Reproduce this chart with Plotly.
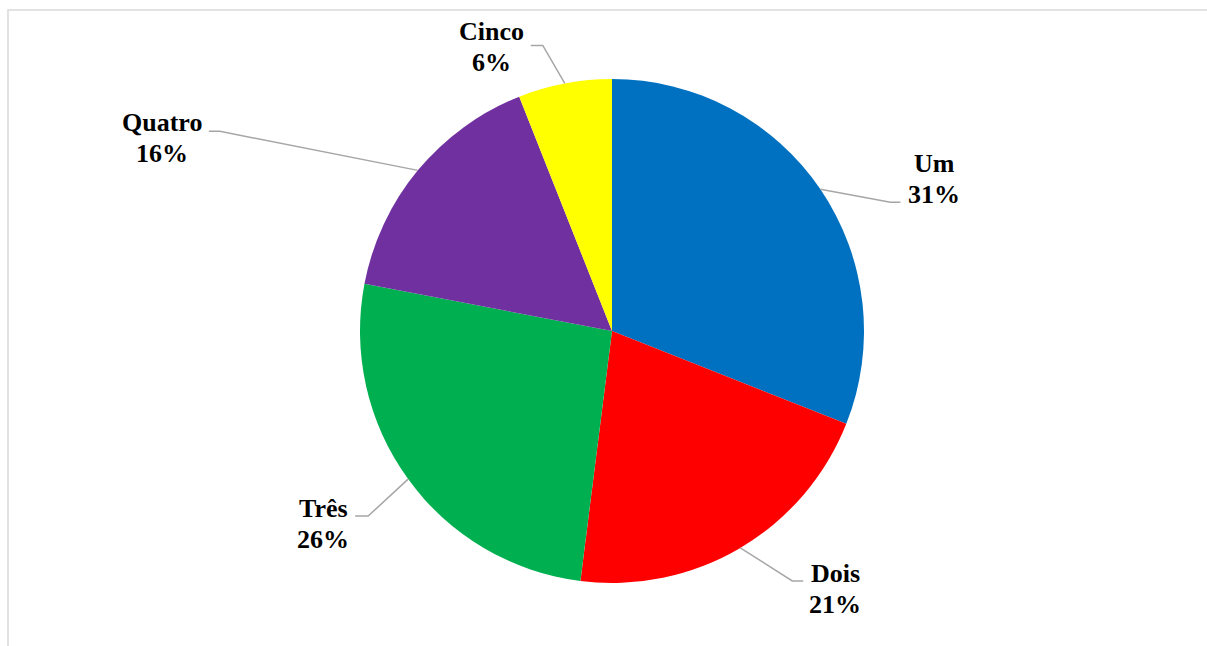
import math
import plotly.graph_objects as go

# Data
categories = ["Um", "Dois", "Três", "Quatro", "Cinco"]
values = [31, 21, 26, 16, 6]
colors = ["#0070C0", "#FF0000", "#00B050", "#7030A0", "#FFFF00"]

# Canvas and pie geometry (pixels)
W, H = 1207, 646
CX, CY, R = 612, 331, 252

# Leader-line layout per slice, pixel offsets from the point on the rim:
# elbow offset, horizontal tail length, label centre offset
elbow = [(70, 13), (52, 33), (-40, 37), (-198, -39), (-22, -38)]
tail = [10, 11, -13, -11, -12]
label_off = [(114, -10), (95, 41), (-85, 45), (-256, -32), (-73, -36)]

FONT = "Liberation Serif"
FONT_SIZE = 26
LINE_GAP = 31  # distance between the name line and the percent line


def px(x):
    return x / W


def py(y):
    return 1 - y / H


fig = go.Figure(
    go.Pie(
        labels=categories,
        values=values,
        marker=dict(colors=colors, line=dict(width=0)),
        sort=False,
        direction="clockwise",
        rotation=0,
        textinfo="none",
        hoverinfo="label+percent",
        showlegend=False,
        domain=dict(x=[px(CX - R), px(CX + R)], y=[py(CY + R), py(CY - R)]),
    )
)

total = sum(values)
shapes = []
annotations = []
cum = 0
for i, (cat, v) in enumerate(zip(categories, values)):
    mid = (cum + v / 2) / total * 2 * math.pi  # clockwise from 12 o'clock
    cum += v
    sx = CX + R * math.sin(mid)
    sy = CY - R * math.cos(mid)
    ex, ey = sx + elbow[i][0], sy + elbow[i][1]
    tx = ex + tail[i]
    shapes.append(
        dict(
            type="path",
            xref="paper",
            yref="paper",
            path=f"M {px(sx)},{py(sy)} L {px(ex)},{py(ey)} L {px(tx)},{py(ey)}",
            line=dict(color="#A6A6A6", width=1.5),
        )
    )
    pct = round(v / total * 100)
    lx, ly = sx + label_off[i][0], sy + label_off[i][1]
    for text, dy in ((cat, -LINE_GAP / 2), (f"{pct}%", LINE_GAP / 2)):
        annotations.append(
            dict(
                x=px(lx),
                y=py(ly + dy),
                xref="paper",
                yref="paper",
                text=f"<b>{text}</b>",
                showarrow=False,
                xanchor="center",
                yanchor="middle",
                font=dict(family=FONT, size=FONT_SIZE, color="#000000"),
            )
        )

# Chart-area border (runs past the right and bottom edges)
shapes.append(
    dict(
        type="rect",
        xref="paper",
        yref="paper",
        x0=px(8),
        y0=py(H + 20),
        x1=px(W + 20),
        y1=py(10),
        line=dict(color="#D9D9D9", width=1.5),
        fillcolor="rgba(0,0,0,0)",
        layer="below",
    )
)

fig.update_layout(
    width=W,
    height=H,
    margin=dict(l=0, r=0, t=0, b=0),
    paper_bgcolor="#FFFFFF",
    plot_bgcolor="#FFFFFF",
    shapes=shapes,
    annotations=annotations,
)

fig.write_html("out.html")
